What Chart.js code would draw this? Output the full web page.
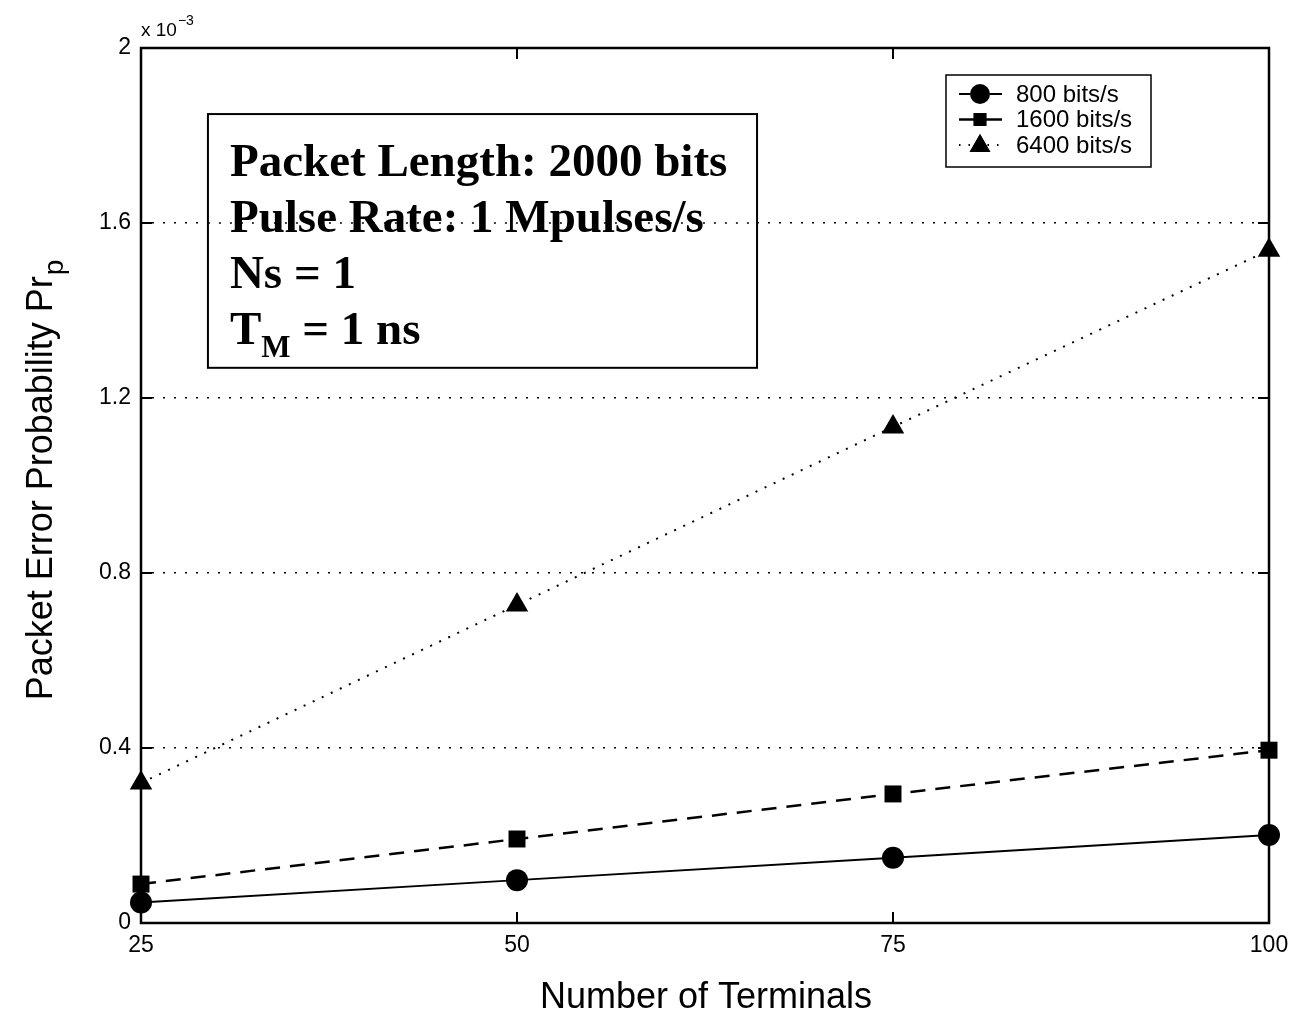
<!DOCTYPE html>
<html>
<head>
<meta charset="utf-8">
<script src="https://cdn.jsdelivr.net/npm/chart.js@4.4.1/dist/chart.umd.min.js"></script>
<style>
  html, body { margin: 0; padding: 0; background: #fff; }
  #wrap { width: 1294px; height: 1013px; }
</style>
</head>
<body>
<div id="wrap"><canvas id="chart"></canvas></div>
<script>
// values (units of 1e-3)
const terminals = [25, 50, 75, 100];
const rate800 = [0.047, 0.098, 0.149, 0.201];
const rate1600 = [0.089, 0.192, 0.295, 0.395];
const rate6400 = [0.32, 0.727, 1.134, 1.538];
const seriesNames = ["800 bits/s", "1600 bits/s", "6400 bits/s"];
const yTicks = [0, 0.4, 0.8, 1.2, 1.6, 2];
const xTicks = [25, 50, 75, 100];
const noteLines = ["Packet Length: 2000 bits", "Pulse Rate: 1 Mpulses/s", "Ns = 1"];

const SANS = '"Liberation Sans", Arial, sans-serif';
const SERIF = '"Liberation Serif", "Times New Roman", serif';

function toXY(ys) {
  return terminals.map((t, i) => ({ x: t, y: ys[i] }));
}

// frame, inside ticks, titles, note box and legend (MATLAB look)
const decorations = {
  id: "decorations",
  afterDraw(chart) {
    const ctx = chart.ctx;
    const a = chart.chartArea;
    const xs = chart.scales.x, ys = chart.scales.y;
    ctx.save();
    ctx.strokeStyle = "#000";
    ctx.fillStyle = "#000";
    ctx.setLineDash([]);

    // frame
    ctx.lineWidth = 2.5;
    ctx.strokeRect(a.left, a.top, a.right - a.left, a.bottom - a.top);

    // inward ticks
    ctx.lineWidth = 2;
    const tl = 11;
    ctx.beginPath();
    xTicks.forEach(v => {
      const px = xs.getPixelForValue(v);
      ctx.moveTo(px, a.bottom); ctx.lineTo(px, a.bottom - tl);
      ctx.moveTo(px, a.top); ctx.lineTo(px, a.top + tl);
    });
    yTicks.forEach(v => {
      const py = ys.getPixelForValue(v);
      ctx.moveTo(a.left, py); ctx.lineTo(a.left + tl, py);
      ctx.moveTo(a.right, py); ctx.lineTo(a.right - tl, py);
    });
    ctx.stroke();

    // exponent label
    ctx.textAlign = "left";
    ctx.textBaseline = "alphabetic";
    ctx.font = "19px " + SANS;
    ctx.fillText("x 10", a.left, a.top - 12);
    const w10 = ctx.measureText("x 10").width;
    ctx.font = "14px " + SANS;
    ctx.fillText("\u22123", a.left + w10 + 1, a.top - 23);

    // axis titles
    ctx.font = "36px " + SANS;
    ctx.textAlign = "center";
    ctx.fillText("Number of Terminals", (a.left + a.right) / 2 + 1, a.bottom + 85);

    ctx.save();
    ctx.translate(52, (a.top + a.bottom) / 2 - 5);
    ctx.rotate(-Math.PI / 2);
    ctx.font = "36px " + SANS;
    const main = "Packet Error Probability Pr";
    const wMain = ctx.measureText(main).width;
    ctx.font = "28px " + SANS;
    const wSub = ctx.measureText("p").width;
    const start = -(wMain + wSub) / 2;
    ctx.textAlign = "left";
    ctx.font = "36px " + SANS;
    ctx.fillText(main, start, 0);
    ctx.font = "28px " + SANS;
    ctx.fillText("p", start + wMain + 1, 11);
    ctx.restore();

    // note box
    const bx0 = xs.getPixelForValue(29.45), bx1 = xs.getPixelForValue(65.96);
    const by0 = ys.getPixelForValue(1.849), by1 = ys.getPixelForValue(1.269);
    ctx.fillStyle = "#fff";
    ctx.fillRect(bx0, by0, bx1 - bx0, by1 - by0);
    ctx.lineWidth = 2;
    ctx.strokeStyle = "#000";
    ctx.strokeRect(bx0, by0, bx1 - bx0, by1 - by0);
    // grid line shows through the box text in the original
    ctx.save();
    ctx.setLineDash([2, 9]);
    ctx.lineWidth = 1.5;
    ctx.beginPath();
    const g16 = ys.getPixelForValue(1.6);
    ctx.moveTo(bx0, g16); ctx.lineTo(bx1, g16);
    ctx.stroke();
    ctx.restore();

    ctx.fillStyle = "#000";
    ctx.textAlign = "left";
    ctx.font = "bold 47px " + SERIF;
    const tx = bx0 + 22;
    const lineGap = 56;
    noteLines.forEach((s, i) => ctx.fillText(s, tx, by0 + 62 + i * lineGap));
    const lastY = by0 + 62 + 3 * lineGap;
    ctx.fillText("T", tx, lastY);
    const wT = ctx.measureText("T").width;
    ctx.font = "bold 31px " + SERIF;
    ctx.fillText("M", tx + wT, lastY + 13);
    const wM = ctx.measureText("M").width;
    ctx.font = "bold 47px " + SERIF;
    ctx.fillText(" = 1 ns", tx + wT + wM, lastY);

    // legend
    const lx0 = 946, ly0 = 75, lw = 205, lh = 92;
    ctx.fillStyle = "#fff";
    ctx.fillRect(lx0, ly0, lw, lh);
    ctx.lineWidth = 1.5;
    ctx.strokeRect(lx0, ly0, lw, lh);
    chart.data.datasets.forEach((ds, i) => {
      const cy = ly0 + 19 + i * 25.5;
      ctx.save();
      ctx.strokeStyle = "#000";
      ctx.lineWidth = ds.borderWidth;
      ctx.setLineDash(i === 2 ? [1.5, 8] : []);
      ctx.beginPath();
      ctx.moveTo(lx0 + 13, cy); ctx.lineTo(lx0 + 56, cy);
      ctx.stroke();
      ctx.restore();
      const r = ds.pointStyle === "triangle" ? 12 : (ds.pointStyle === "rect" ? 9 : 10);
      Chart.helpers.drawPoint(ctx, {
        pointStyle: ds.pointStyle,
        radius: r,
        rotation: 0,
        borderWidth: 0
      }, lx0 + 34, cy + (ds.pointStyle === "triangle" ? 1 : 0));
      ctx.fillStyle = "#000";
      ctx.fill();
      ctx.font = "24px " + SANS;
      ctx.textAlign = "left";
      ctx.textBaseline = "middle";
      ctx.fillText(ds.label, lx0 + 70, cy + 1);
      ctx.textBaseline = "alphabetic";
    });

    ctx.restore();
  }
};

new Chart(document.getElementById("chart"), {
  type: "line",
  data: {
    datasets: [
      {
        label: seriesNames[0],
        data: toXY(rate800),
        borderColor: "#000",
        backgroundColor: "#000",
        borderWidth: 2,
        pointStyle: "circle",
        pointRadius: 11,
        pointBorderWidth: 0
      },
      {
        label: seriesNames[1],
        data: toXY(rate1600),
        borderColor: "#000",
        backgroundColor: "#000",
        borderWidth: 2.5,
        borderDash: [15, 10],
        pointStyle: "rect",
        pointRadius: 12,
        pointBorderWidth: 0
      },
      {
        label: seriesNames[2],
        data: toXY(rate6400),
        borderColor: "#000",
        backgroundColor: "#000",
        borderWidth: 2,
        borderDash: [2, 8],
        pointStyle: "triangle",
        pointRadius: 13,
        pointBorderWidth: 0
      }
    ]
  },
  options: {
    responsive: true,
    maintainAspectRatio: false,
    animation: false,
    clip: false,
    layout: { padding: { left: 0, right: 25, top: 48, bottom: 0 } },
    plugins: {
      legend: { display: false },
      tooltip: { enabled: false }
    },
    scales: {
      x: {
        type: "linear",
        min: 25,
        max: 100,
        afterBuildTicks: s => { s.ticks = xTicks.map(v => ({ value: v })); },
        afterFit: s => { s.height = 90; s.paddingRight = 0; s.paddingLeft = 0; },
        grid: { display: false, drawTicks: false },
        border: { display: false },
        ticks: {
          color: "#000",
          font: { family: SANS, size: 23 },
          padding: 9
        }
      },
      y: {
        type: "linear",
        min: 0,
        max: 2,
        afterBuildTicks: s => { s.ticks = yTicks.map(v => ({ value: v })); },
        afterFit: s => { s.width = 141; },
        grid: {
          drawTicks: false,
          lineWidth: 1.5,
          color: c => (c.tick && (c.tick.value === 0 || c.tick.value === 2)) ? "rgba(0,0,0,0)" : "#000"
        },
        border: { display: false, dash: [2, 9] },
        ticks: {
          color: "#000",
          font: { family: SANS, size: 23 },
          padding: 10,
          callback: v => String(Number(v.toFixed(1)))
        }
      }
    }
  },
  plugins: [decorations]
});
</script>
</body>
</html>
